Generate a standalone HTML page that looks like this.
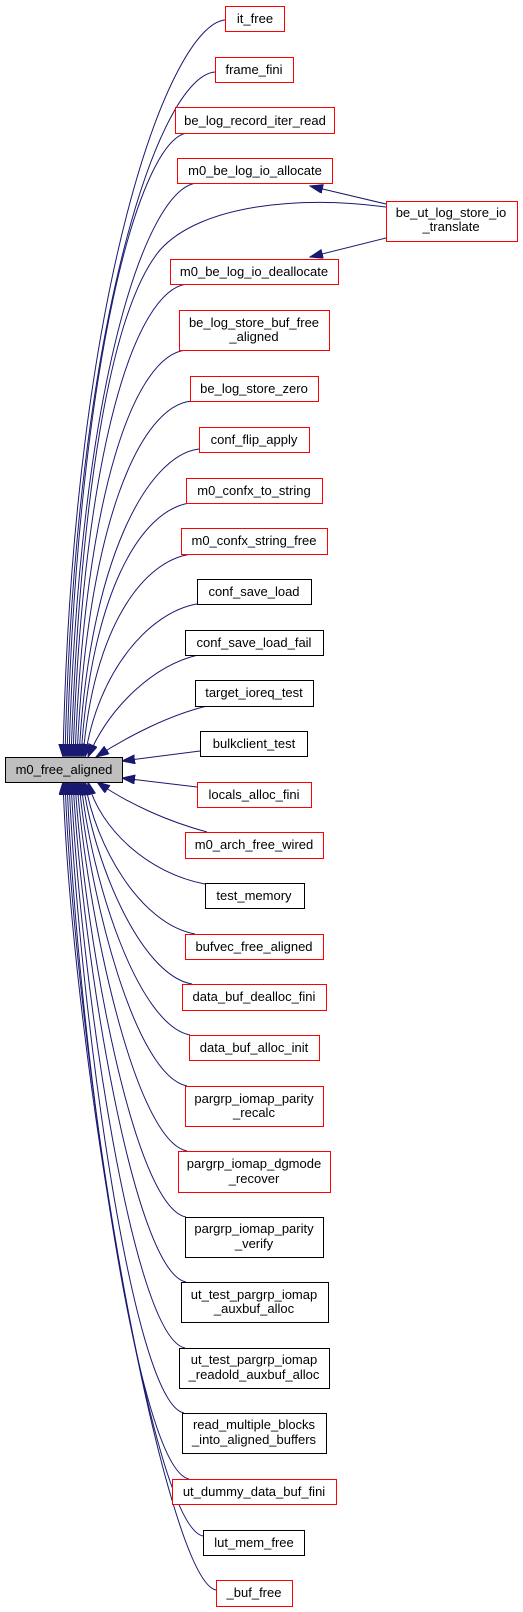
<!DOCTYPE html>
<html><head><meta charset="utf-8"><style>
html,body{margin:0;padding:0;background:#fff;}
svg{display:block;}
text{font-family:"Liberation Sans",Arial,sans-serif;font-size:13px;fill:#000;text-anchor:middle;}
.r{fill:#fff;stroke:#ff0000;stroke-width:1;}
.b{fill:#fff;stroke:#000;stroke-width:1;}
.e{fill:none;stroke:#191970;stroke-width:1;}
</style></head><body>
<svg width="523" height="1612" viewBox="0 0 523 1612" xmlns="http://www.w3.org/2000/svg">
<defs><marker id="a" markerWidth="14" markerHeight="10" refX="13" refY="4.5" orient="auto" markerUnits="userSpaceOnUse"><path d="M0,0 L13,4.5 L0,9 z" fill="#191970" stroke="#191970"/></marker></defs>
<g class="e" marker-end="url(#a)">
<path d="M225,20 C170,25 73,285 63,757"/>
<path d="M215,72 C160,76 75,320 65,757"/>
<path d="M187,133 C140,140 77,360 67,757"/>
<path d="M197,183 C145,188 79,390 69,757"/>
<path d="M386,207 C300,195 200,205 160,250 C110,310 80,500 71,757"/>
<path d="M187,284 C135,290 83,450 73,757"/>
<path d="M186,350 C135,355 85,490 75,757"/>
<path d="M192,401 C140,405 87,525 77,757"/>
<path d="M199,449 C148,455 89,560 79,757"/>
<path d="M190,503 C140,510 91,595 81,757"/>
<path d="M192,554 C142,560 93,630 83,757"/>
<path d="M197,604 C150,612 98,670 85,757"/>
<path d="M198,655 C155,665 110,705 88,757"/>
<path d="M207,706 C170,715 130,735 96,757"/>
<path d="M200,751 L122,761"/>
<path d="M197,787 L122,778"/>
<path d="M207,832 C170,822 130,805 97,782"/>
<path d="M205,884 C150,874 100,830 88,782"/>
<path d="M195,934 C140,924 95,845 85,782"/>
<path d="M192,984 C140,975 93,860 83,782"/>
<path d="M190,1035 C138,1025 91,880 81,782"/>
<path d="M187,1086 C135,1076 89,895 79,782"/>
<path d="M187,1151 C135,1141 87,915 77,782"/>
<path d="M186,1217 C134,1207 85,940 75,782"/>
<path d="M186,1282 C134,1272 83,960 73,782"/>
<path d="M185,1348 C133,1338 81,985 71,782"/>
<path d="M184,1413 C132,1403 79,1005 69,782"/>
<path d="M189,1479 C135,1469 77,1030 67,782"/>
<path d="M203,1536 C150,1526 75,1045 65,782"/>
<path d="M216,1590 C165,1580 73,1070 63,782"/>
<path d="M386,204 L310,186"/>
<path d="M386,238 L310,257"/>
</g>
<rect x="5.5" y="757.5" width="117" height="25" fill="#bfbfbf" stroke="#000"/>
<text x="64" y="774">m0_free_aligned</text>
<rect class="r" x="225.5" y="6.5" width="59" height="25"/><text x="255" y="23">it_free</text>
<rect class="r" x="215.5" y="57.5" width="78" height="25"/><text x="254" y="74">frame_fini</text>
<rect class="r" x="175.5" y="107.5" width="159" height="26"/><text x="255" y="125">be_log_record_iter_read</text>
<rect class="r" x="177.5" y="158.5" width="155" height="25"/><text x="255" y="175">m0_be_log_io_allocate</text>
<rect class="r" x="386.5" y="201.5" width="131" height="40"/><text x="451" y="217">be_ut_log_store_io</text><text x="451" y="231">_translate</text>
<rect class="r" x="170.5" y="259.5" width="168" height="25"/><text x="254" y="276">m0_be_log_io_deallocate</text>
<rect class="r" x="179.5" y="310.5" width="150" height="40"/><text x="254" y="327">be_log_store_buf_free</text><text x="254" y="341">_aligned</text>
<rect class="r" x="190.5" y="376.5" width="128" height="25"/><text x="254" y="393">be_log_store_zero</text>
<rect class="r" x="199.5" y="427.5" width="110" height="25"/><text x="254" y="444">conf_flip_apply</text>
<rect class="r" x="186.5" y="478.5" width="136" height="25"/><text x="254" y="495">m0_confx_to_string</text>
<rect class="r" x="181.5" y="528.5" width="146" height="26"/><text x="254" y="545">m0_confx_string_free</text>
<rect class="b" x="197.5" y="579.5" width="114" height="25"/><text x="254" y="596">conf_save_load</text>
<rect class="b" x="185.5" y="630.5" width="138" height="25"/><text x="254" y="647">conf_save_load_fail</text>
<rect class="b" x="195.5" y="680.5" width="118" height="26"/><text x="254" y="697">target_ioreq_test</text>
<rect class="b" x="200.5" y="731.5" width="107" height="25"/><text x="254" y="748">bulkclient_test</text>
<rect class="r" x="197.5" y="782.5" width="114" height="25"/><text x="254" y="799">locals_alloc_fini</text>
<rect class="r" x="185.5" y="832.5" width="138" height="26"/><text x="254" y="849">m0_arch_free_wired</text>
<rect class="b" x="205.5" y="883.5" width="99" height="25"/><text x="254" y="900">test_memory</text>
<rect class="r" x="185.5" y="934.5" width="138" height="25"/><text x="254" y="951">bufvec_free_aligned</text>
<rect class="r" x="182.5" y="984.5" width="144" height="26"/><text x="254" y="1001">data_buf_dealloc_fini</text>
<rect class="r" x="189.5" y="1035.5" width="130" height="25"/><text x="254" y="1052">data_buf_alloc_init</text>
<rect class="r" x="185.5" y="1086.5" width="138" height="40"/><text x="254" y="1103">pargrp_iomap_parity</text><text x="254" y="1117">_recalc</text>
<rect class="r" x="178.5" y="1151.5" width="152" height="41"/><text x="254" y="1168">pargrp_iomap_dgmode</text><text x="254" y="1183">_recover</text>
<rect class="b" x="185.5" y="1217.5" width="138" height="40"/><text x="254" y="1233">pargrp_iomap_parity</text><text x="254" y="1248">_verify</text>
<rect class="b" x="181.5" y="1282.5" width="147" height="40"/><text x="254" y="1299">ut_test_pargrp_iomap</text><text x="254" y="1313">_auxbuf_alloc</text>
<rect class="b" x="179.5" y="1348.5" width="150" height="40"/><text x="254" y="1364">ut_test_pargrp_iomap</text><text x="254" y="1379">_readold_auxbuf_alloc</text>
<rect class="b" x="182.5" y="1413.5" width="144" height="40"/><text x="254" y="1429">read_multiple_blocks</text><text x="254" y="1444">_into_aligned_buffers</text>
<rect class="r" x="172.5" y="1479.5" width="164" height="25"/><text x="254" y="1496">ut_dummy_data_buf_fini</text>
<rect class="b" x="203.5" y="1530.5" width="101" height="25"/><text x="254" y="1547">lut_mem_free</text>
<rect class="r" x="216.5" y="1580.5" width="76" height="26"/><text x="254" y="1597">_buf_free</text>
</svg>
</body></html>
